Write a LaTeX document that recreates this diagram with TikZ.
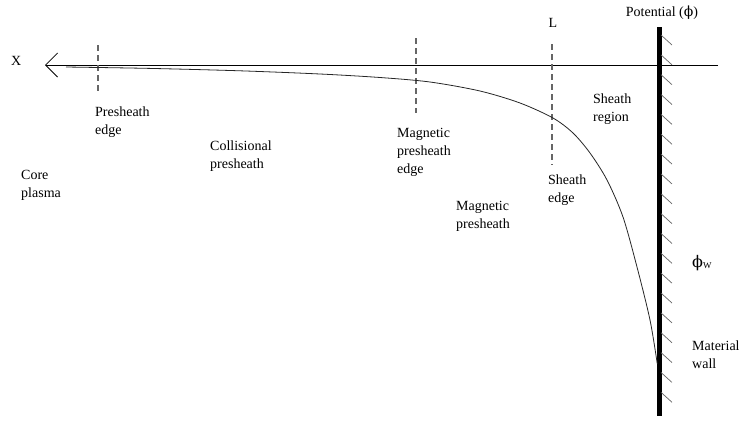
\documentclass[tikz,border=0pt]{standalone}
\usepackage{fontspec}
\setmainfont{Liberation Serif}
\newfontfamily\phifont{DejaVu Serif}
\usetikzlibrary{arrows.meta}
\begin{document}
\begin{tikzpicture}[x=1pt,y=-1pt,
  lbl/.style={anchor=north west, inner sep=0pt, align=left, font=\rmfamily\fontsize{14}{18}\selectfont},
  edgeline/.style={draw=black!60, line width=1.1pt, dash pattern=on 6pt off 4pt},
  hatch/.style={draw=black!60, line width=0.7pt},
  axisline/.style={draw=black, line width=0.9pt},
  curveline/.style={draw=black!85, line width=0.8pt},
  wallline/.style={draw=black, line width=5pt}]
\useasboundingbox (0,0) rectangle (739,421);
% axis
\coordinate (axR) at (718,65);
\coordinate (axL) at (45,65);
\draw[axisline, -{Straight Barb[length=12pt, width=24pt, line width=0.8pt]}] (axR) -- (axL);
\node[lbl, anchor=base west] (xlab) at (11,65) {X};
% wall
\coordinate (wT) at (659,27);
\coordinate (wB) at (659,416);
\draw[wallline] (wT) -- (wB);
\foreach \i in {0,...,18} {
  \draw[hatch] (661,35+19.85*\i) -- ++(11,10);
}
% dashed edges
\coordinate (d1t) at (98,45); \coordinate (d1b) at (98,92);
\coordinate (d2t) at (416,38); \coordinate (d2b) at (416,113);
\coordinate (d3t) at (552,44); \coordinate (d3b) at (552,165);
\draw[edgeline] (d1t) -- (d1b);
\draw[edgeline] (d2t) -- (d2b);
\draw[edgeline] (d3t) -- (d3b);
% potential curve
\draw[curveline] plot[smooth] coordinates {(66,67) (150,68.4) (240,70.8) (320,74) (380,77.5) (430,82) (480,91) (520,103) (553,118) (573,133) (590,153) (607,180) (623,217) (637,267) (650,320) (657.3,364)};
% labels
\node[lbl] (pe) at (95,107) {Presheath\\edge};
\node[lbl] (cp) at (210,141) {Collisional\\presheath};
\node[lbl] (core) at (21,170) {Core\\plasma};
\node[lbl] (mpe) at (397,128) {Magnetic\\presheath\\edge};
\node[lbl] (mp) at (456,201) {Magnetic\\presheath};
\node[lbl] (se) at (548,175) {Sheath\\edge};
\node[lbl] (sr) at (593,94) {Sheath\\region};
\node[lbl] (mw) at (692,341) {Material\\wall};
\node[lbl, anchor=base] (L) at (553,27) {L};
\node[lbl, anchor=base] (pot) at (662,16) {Potential ({\phifont ϕ})};
\node[lbl, anchor=base west] (phiw) at (692,267) {{\phifont\fontsize{16}{18}\selectfont ϕ}\raisebox{-1.5pt}{\fontsize{9}{10}\selectfont W}};
\end{tikzpicture}
\end{document}
